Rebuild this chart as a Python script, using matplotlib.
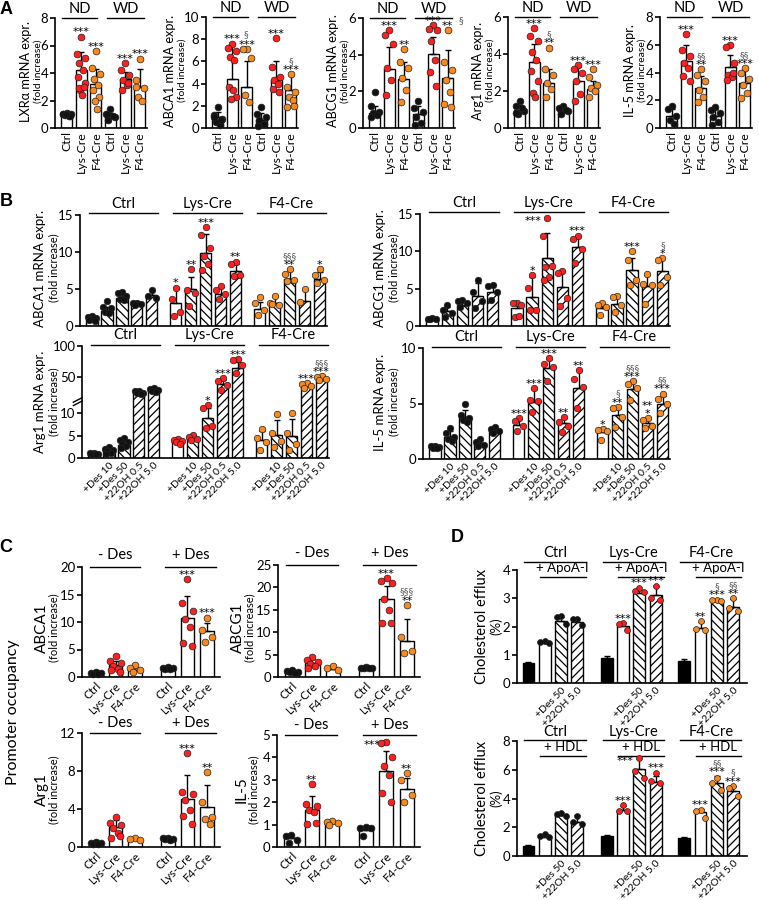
import numpy as np
import matplotlib
matplotlib.use('Agg')
import matplotlib.pyplot as plt

W, H = 759, 900
plt.rcParams['font.family'] = ['Lato', 'DejaVu Sans']
plt.rcParams['hatch.linewidth'] = 0.9
plt.rcParams['axes.linewidth'] = 1.2

RED = '#ff1f1f'
ORANGE = '#f7891f'
BLACK = '#111111'
GREY = '#555555'
STARFONT = ['DejaVu Sans']

# ---------------- DATA ----------------
A_ticklabels = ['Ctrl', 'Lys-Cre', 'F4-Cre', 'Ctrl', 'Lys-Cre', 'F4-Cre']
A_groups = ['ND', 'WD']

A1_mean = [1.0, 4.2, 3.2, 0.85, 3.55, 3.0]
A1_sd = [0.1, 1.3, 1.1, 0.25, 0.55, 1.3]
A1_pts = [[1.1, 1.05, 1.0, 0.95, 0.9, 1.0, 0.85, 1.0],
          [6.65, 5.4, 5.1, 4.7, 4.2, 3.7, 3.25, 2.75, 2.4, 2.9, 3.0],
          [5.6, 4.35, 3.95, 3.55, 3.1, 2.75, 2.25, 2.0, 1.4],
          [1.4, 1.05, 0.8, 0.55, 0.9, 1.0],
          [4.7, 4.2, 3.85, 3.5, 3.1, 2.75, 3.3],
          [5.05, 3.5, 2.9, 2.25, 2.0, 3.0]]
A1_sig = ['', '***', '***', '', '***', '***']
A1_sect = ['', '', '', '', '', '']

A2_mean = [0.95, 4.45, 3.7, 0.75, 4.3, 3.4]
A2_sd = [0.5, 3.1, 2.3, 0.6, 1.7, 1.4]
A2_pts = [[1.9, 1.15, 0.85, 0.55, 0.25, 1.0, 0.7],
          [7.6, 7.2, 6.9, 6.4, 6.1, 3.65, 2.8, 2.65, 3.4],
          [7.1, 7.1, 6.3, 2.95, 2.35],
          [1.9, 1.3, 1.0, 0.7, 0.4, 0.15],
          [8.1, 5.5, 4.6, 4.3, 3.95, 3.5, 3.25],
          [4.85, 3.7, 3.25, 2.8, 2.5, 1.9, 2.0]]
A2_sig = ['', '***', '***', '', '***', '***']
A2_sect = ['', '>§', '', '', '', '§']

A3_mean = [0.8, 3.2, 2.7, 0.75, 4.05, 2.75]
A3_sd = [0.4, 1.2, 0.9, 0.45, 0.9, 1.5]
A3_pts = [[1.95, 1.2, 0.9, 0.8, 0.7, 0.6],
          [5.35, 5.05, 4.6, 3.3, 2.6, 1.8],
          [4.3, 3.6, 3.3, 2.75, 2.05, 1.4],
          [1.5, 1.1, 0.9, 0.6, 0.3, 0.15],
          [5.6, 5.4, 5.35, 4.75, 3.7, 3.05, 2.3],
          [5.35, 3.6, 3.15, 2.6, 1.95, 1.3, 1.15]]
A3_sig = ['', '***', '**', '', '***', '**']
A3_sect = ['', '', '', '', '', '>§']

A4_mean = [0.95, 3.55, 2.45, 0.9, 2.55, 2.1]
A4_sd = [0.3, 1.0, 0.75, 0.2, 0.75, 0.45]
A4_pts = [[1.45, 1.2, 0.9, 0.75, 1.1, 0.8],
          [5.4, 4.95, 4.7, 4.1, 3.65, 3.1, 2.55, 1.9, 1.65],
          [4.35, 3.2, 2.85, 2.45, 2.1, 1.65],
          [1.2, 1.1, 0.9, 0.75, 1.0],
          [3.4, 3.2, 3.0, 2.55, 1.85, 1.45],
          [3.2, 2.75, 2.3, 2.15, 2.0, 1.65]]
A4_sig = ['', '***', '**', '', '***', '***']
A4_sect = ['', '', '§', '', '', '']

A5_mean = [0.9, 4.8, 2.85, 0.9, 4.4, 3.25]
A5_sd = [0.5, 1.15, 0.9, 0.45, 0.85, 0.9]
A5_pts = [[1.55, 1.4, 0.9, 0.55, 0.3],
          [6.75, 5.6, 5.2, 4.65, 4.3, 3.75, 3.4],
          [4.25, 3.8, 3.4, 2.75, 2.25, 1.9],
          [1.5, 1.3, 1.05, 0.8, 0.45, 0.2],
          [5.95, 5.85, 4.7, 3.8, 3.7, 3.45, 3.95],
          [4.3, 4.0, 3.55, 3.1, 2.5, 2.15]]
A5_sig = ['', '***', '**', '', '***', '***']
A5_sect = ['', '', '§§', '', '', '§§']

B_groups = ['Ctrl', 'Lys-Cre', 'F4-Cre']
B_ticklabels = ['+Des 10', '+Des 50', '+22OH 0.5', '+22OH 5.0']

B1_mean = [1.0, 2.0, 3.8, 3.0, 4.2, 3.1, 4.95, 9.9, 4.3, 7.4, 2.3, 3.15, 6.4, 3.4, 6.4]
B1_sd = [0.2, 0.6, 0.5, 0.15, 0.6, 1.9, 1.65, 2.6, 1.0, 1.0, 1.0, 0.85, 1.2, 1.6, 0.9]
B1_pts = [[1.3, 1.2, 1.1, 1.0, 0.9, 0.8, 0.7],
          [3.4, 2.6, 2.4, 1.9, 1.7],
          [4.6, 4.4, 4.0, 3.7, 3.5],
          [3.15, 3.05, 3.0, 2.8],
          [4.9, 4.05, 3.8],
          [5.2, 3.6, 1.9, 1.3],
          [7.7, 4.9, 4.4, 2.7],
          [13.4, 12.3, 10.5, 9.4, 8.4, 7.6],
          [5.4, 4.9, 4.3, 3.7],
          [8.7, 8.4, 6.9, 6.8],
          [3.9, 3.15, 2.2, 1.5],
          [4.05, 3.15, 2.8, 3.0],
          [7.7, 7.0, 6.2, 6.1],
          [5.0, 3.2],
          [7.7, 6.9, 6.2, 5.8]]
B1_sig = ['', '', '', '', '', '*', '**', '***', '', '**', '', '', '**', '', '*']
B1_sect = ['', '', '', '', '', '', '', '', '', '', '', '', '§§§', '', '']

B2_mean = [1.0, 2.0, 2.8, 4.0, 4.6, 2.4, 3.95, 9.1, 5.2, 10.6, 2.45, 2.9, 7.5, 5.3, 7.4]
B2_sd = [0.1, 0.6, 0.4, 1.7, 0.9, 0.7, 2.55, 3.35, 2.2, 1.5, 0.6, 1.0, 1.6, 1.55, 1.7]
B2_pts = [[1.1, 1.0, 0.95, 0.9],
          [2.8, 2.15, 1.7, 1.25],
          [3.5, 3.3, 3.05, 2.6],
          [6.1, 4.6, 3.3, 2.4],
          [5.5, 5.3, 4.6, 3.5],
          [3.1, 3.05, 2.8, 1.25, 1.3],
          [6.85, 5.05, 2.15, 2.15],
          [14.5, 12.1, 8.0, 7.9, 6.5, 6.1],
          [7.4, 7.1, 3.7, 2.7],
          [12.0, 11.7, 10.3, 8.5],
          [3.1, 2.8, 2.5, 1.5],
          [4.0, 3.85, 2.8, 1.9],
          [10.0, 8.9, 6.1, 5.5],
          [6.9, 5.6, 5.5, 2.95],
          [9.1, 8.8, 6.5, 5.5]]
B2_sig = ['', '', '', '', '', '', '*', '<***', '', '***', '', '', '***', '', '*']
B2_sect = ['', '', '', '', '', '', '', '', '', '', '', '', '', '', '§']

B3_mean = [1.0, 1.6, 3.0, 25, 28, 3.8, 4.4, 8.9, 38, 65, 4.0, 5.1, 5.0, 36, 46]
B3_sd = [0.15, 0.4, 0.8, 2, 2, 0.3, 0.5, 2.2, 7, 10, 2.0, 3.5, 3.8, 3, 3]
B3_pts = [[1.2, 1.1, 1.0, 0.9, 0.8],
          [2.5, 2.1, 1.8, 1.5, 1.2, 1.0],
          [4.4, 4.0, 3.6, 3.2, 2.8, 2.2],
          [28, 27, 25, 24, 23],
          [32, 30, 29, 27, 26],
          [4.3, 4.1, 3.9, 3.6, 3.2],
          [5.1, 4.7, 4.3, 4.0],
          [11.8, 11.1, 7.2, 6.8],
          [48, 43, 37, 29],
          [79, 78, 69, 56],
          [6.6, 4.4, 3.5, 1.9],
          [9.8, 5.5, 3.8, 2.4],
          [10.1, 5.7, 3.1, 1.9],
          [40, 38, 36, 33],
          [51, 50, 47, 45]]
B3_sig = ['', '', '', '', '', '', '', '*', '***', '***', '', '', '', '***', '***']
B3_sect = ['', '', '', '', '', '', '', '', '', '', '', '', '', '', '§§§']

B4_mean = [1.1, 2.0, 3.8, 1.4, 2.5, 3.1, 5.1, 8.2, 3.2, 6.4, 2.4, 4.0, 6.3, 3.2, 5.0]
B4_sd = [0.1, 0.5, 0.6, 0.3, 0.3, 0.5, 1.2, 0.8, 0.5, 1.6, 0.3, 0.6, 0.7, 0.4, 0.7]
B4_pts = [[1.2, 1.15, 1.1, 1.0, 1.0],
          [2.8, 2.3, 2.0, 1.8, 1.6],
          [5.0, 4.0, 3.7, 3.5, 3.3],
          [1.8, 1.5, 1.3, 1.2],
          [2.9, 2.7, 2.5, 2.3],
          [3.7, 3.4, 3.0, 2.5],
          [6.4, 5.3, 5.2, 4.2],
          [9.1, 8.6, 8.3, 7.0],
          [3.8, 3.3, 3.0, 2.4],
          [8.0, 7.2, 6.5, 4.6],
          [2.7, 2.6, 2.5, 1.7],
          [4.7, 4.6, 3.8, 2.9],
          [7.0, 6.8, 6.4, 5.3],
          [3.7, 3.5, 3.0, 2.8],
          [5.9, 5.4, 5.0, 4.1]]
B4_sig = ['', '', '', '', '', '***', '***', '***', '**', '**', '*', '**', '***', '**\n*', '***']
B4_sect = ['', '', '', '', '', '', '', '', '', '', '', '§', '§§§', '', '§§']

C_groups = ['- Des', '+ Des']
C_ticklabels = ['Ctrl', 'Lys-Cre', 'F4-Cre', 'Ctrl', 'Lys-Cre', 'F4-Cre']

C1_mean = [0.7, 2.1, 1.35, 1.55, 10.8, 8.3]
C1_sd = [0.15, 0.8, 0.5, 0.15, 4.0, 1.5]
C1_pts = [[0.9, 0.8, 0.7, 0.6, 0.5],
          [3.75, 3.0, 2.55, 1.95, 1.5, 1.2, 0.9],
          [2.1, 1.7, 1.35, 0.9],
          [1.8, 1.7, 1.6, 1.5, 1.4],
          [17.8, 13.4, 12.0, 10.6, 9.1, 6.1, 5.7],
          [10.8, 8.5, 7.3, 6.4]]
C1_sig = ['', '', '', '', '***', '***']
C1_sect = ['', '', '', '', '', '']

C2_mean = [1.3, 3.2, 1.85, 2.0, 17.4, 8.1]
C2_sd = [0.2, 0.8, 0.4, 0.1, 3.0, 4.8]
C2_pts = [[1.6, 1.4, 1.2, 1.1, 1.0],
          [4.5, 3.7, 3.4, 3.0, 2.4, 2.1],
          [2.4, 1.9, 1.5],
          [2.2, 2.1, 2.0, 1.9, 1.9],
          [22.0, 21.5, 21.0, 17.5, 15.0, 12.1, 12.0],
          [16.1, 8.9, 5.9, 5.4]]
C2_sig = ['', '', '', '', '***', '**']
C2_sect = ['', '', '', '', '', '§§§']

C3_mean = [0.4, 2.1, 0.8, 0.8, 5.1, 4.2]
C3_sd = [0.1, 0.7, 0.1, 0.1, 2.5, 2.3]
C3_pts = [[0.5, 0.45, 0.4, 0.35, 0.3],
          [3.15, 2.55, 2.3, 1.95, 1.45, 0.95, 1.2],
          [0.9, 0.85, 0.75],
          [0.95, 0.9, 0.85, 0.8, 0.75],
          [9.9, 5.8, 5.6, 4.9, 3.85, 3.25, 2.45],
          [7.9, 4.75, 3.15, 3.0, 2.45]]
C3_sig = ['', '', '', '', '***', '**']
C3_sect = ['', '', '', '', '', '']

C4_mean = [0.4, 1.67, 1.05, 0.78, 3.4, 2.6]
C4_sd = [0.12, 0.6, 0.06, 0.15, 0.9, 0.5]
C4_pts = [[0.55, 0.48, 0.33, 0.18],
          [2.8, 1.9, 1.82, 1.67, 1.55, 1.04, 1.07],
          [1.15, 1.1, 1.05, 1.0],
          [0.88, 0.86, 0.84, 0.5],
          [4.7, 4.65, 4.0, 3.6, 3.2, 2.4, 2.0],
          [3.3, 3.0, 2.3, 2.0]]
C4_sig = ['', '**', '', '', '<***', '**']
C4_sect = ['', '', '', '', '', '']

D_groups = ['Ctrl', 'Lys-Cre', 'F4-Cre']
D_ticklabels = ['+Des 50', '+22OH 5.0']

D1_mean = [0.7, 1.43, 2.18, 2.15, 0.87, 2.03, 3.2, 3.13, 0.79, 1.95, 2.91, 2.69]
D1_sd = [0.03, 0.05, 0.15, 0.1, 0.1, 0.1, 0.1, 0.3, 0.05, 0.2, 0.03, 0.3]
D1_pts = [[], [1.48, 1.45, 1.42], [2.38, 2.32, 2.1], [2.27, 2.25, 2.05],
          [], [2.12, 2.1, 1.88], [3.38, 3.26, 3.22], [3.45, 3.0, 2.95],
          [], [2.2, 1.92, 1.88], [2.95, 2.93, 2.9], [3.0, 2.65, 2.55]]
D1_sig = ['', '', '', '', '', '***', '***', '***', '', '**', '***', '**']
D1_sect = ['', '', '', '', '', '', '', '', '', '', '§', '§§']

D2_mean = [0.69, 1.34, 2.85, 2.38, 1.39, 3.2, 6.02, 5.16, 1.27, 3.08, 5.09, 4.54]
D2_sd = [0.05, 0.1, 0.1, 0.5, 0.1, 0.3, 0.8, 0.4, 0.05, 0.2, 0.45, 0.35]
D2_pts = [[], [1.5, 1.42, 1.35], [3.0, 2.95, 2.8], [2.8, 2.35, 2.25],
          [], [3.55, 3.15, 3.1], [6.85, 5.9, 5.45], [5.8, 5.2, 5.1],
          [], [3.2, 3.1, 2.65], [5.45, 5.1, 4.6], [4.85, 4.7, 4.2]]
D2_sig = ['', '', '', '', '', '***', '<***', '***', '', '***', '***', '***']
D2_sect = ['', '', '', '', '', '', '', '', '', '', '§§', '§']

# ---------------- HELPERS ----------------
fig = plt.figure(figsize=(W / 100, H / 100), dpi=100)


def axes_px(x0, y0, x1, y1):
    ax = fig.add_axes([x0 / W, 1 - y1 / H, (x1 - x0) / W, (y1 - y0) / H])
    ax.set_facecolor('none')
    for s in ['top', 'right']:
        ax.spines[s].set_visible(False)
    ax.tick_params(axis='x', length=0, pad=2)
    ax.tick_params(axis='y', length=3.5, width=1.2, pad=1.2)
    return ax


def ftext(x, y, s, **kw):
    fig.text(x / W, 1 - y / H, s, **kw)


JIT = [0, -1, 1, -0.5, 0.5, -0.8, 0.8, -0.25, 0.25, -0.65, 0.65]
STAR_DY = -0.6


def draw(ax, pos, mean, sd, pts, pcolors, faces, hatches, width, ms, sig, sect,
         fs=8, cap=2.3):
    for i, x in enumerate(pos):
        ax.bar(x, mean[i], width, color=faces[i], edgecolor='black',
               hatch=hatches[i], linewidth=1.0, zorder=2)
        ax.errorbar(x, mean[i], yerr=[[0], [sd[i]]], fmt='none', ecolor='black',
                    elinewidth=1.0, capsize=cap, capthick=1.0, zorder=3)
        p = pts[i]
        if len(p):
            offs = np.array(JIT[:len(p)]) * width * 0.38
            ax.scatter(x + offs, p, s=ms, c=pcolors[i], edgecolors='#222222',
                       linewidths=0.5, zorder=4, clip_on=False)
        top = max([mean[i] + sd[i]] + list(p))
        annot(ax, x, top, sig[i], sect[i], fs)


def annot(ax, x, top, sig, sect, fs):
    if not sig and not sect:
        return
    if sig.startswith('<'):
        ax.annotate(sig[1:], (x, top), xytext=(-4, -fs * 0.3), textcoords='offset points',
                    ha='right', va='center', fontsize=fs, family=STARFONT,
                    annotation_clip=False)
        return
    nl = sig.count('\n') + 1
    ax.annotate(sig, (x, top), xytext=(0, STAR_DY), textcoords='offset points',
                ha='center', va='bottom', fontsize=fs, family=STARFONT,
                linespacing=0.75, annotation_clip=False)
    if sect:
        if sect.startswith('>'):
            ax.annotate(sect[1:], (x, top), xytext=(fs * 1.0, fs * 0.45), textcoords='offset points',
                        ha='left', va='bottom', fontsize=fs * 0.85, color=GREY, annotation_clip=False)
        else:
            ax.annotate(sect, (x, top), xytext=(0, STAR_DY + fs * 0.7 * nl + 1),
                        textcoords='offset points', ha='center', va='bottom',
                        fontsize=fs * 0.85, color=GREY, annotation_clip=False)


def header(ax, spans, labels, yline, ytext, fs):
    tr = ax.get_xaxis_transform()
    for (a, b), lab in zip(spans, labels):
        ax.plot([a, b], [yline, yline], transform=tr, color='black', lw=1.0, clip_on=False)
        ax.text((a + b) / 2, ytext, lab, transform=tr, ha='center', va='center', fontsize=fs)


# ---------------- PANEL A ----------------
A_pos = [0, 1, 2, 3, 4, 5]
A_colors = [BLACK, RED, ORANGE, BLACK, RED, ORANGE]
A_boxes = [(55, 18, 147, 128), (206, 17, 298, 128), (363, 18, 455, 128),
           (508, 17, 600, 128), (660, 17, 752, 128)]
A_ylims = [8, 10, 6, 6, 8]
A_ysteps = [2, 2, 2, 2, 2]
A_ylabels = ['LXRα mRNA expr.', 'ABCA1 mRNA expr.', 'ABCG1 mRNA expr.',
             'Arg1 mRNA expr.', 'IL-5 mRNA expr.']
A_data = [(A1_mean, A1_sd, A1_pts, A1_sig, A1_sect),
          (A2_mean, A2_sd, A2_pts, A2_sig, A2_sect),
          (A3_mean, A3_sd, A3_pts, A3_sig, A3_sect),
          (A4_mean, A4_sd, A4_pts, A4_sig, A4_sect),
          (A5_mean, A5_sd, A5_pts, A5_sig, A5_sect)]
A_lab_off = [(29, 17), (36, 24), (30, 18), (30, 18), (30, 18)]
for k in range(5):
    x0, y0, x1, y1 = A_boxes[k]
    ax = axes_px(x0, y0, x1, y1)
    m, s, p, sg, sc = A_data[k]
    draw(ax, A_pos, m, s, p, A_colors, ['white'] * 6, [None] * 6, 0.75, 24, sg, sc, fs=8)
    ax.set_xlim(-0.8, 5.5)
    ax.set_ylim(0, A_ylims[k])
    ax.set_yticks(np.arange(0, A_ylims[k] + 0.01, A_ysteps[k]))
    ax.tick_params(axis='y', labelsize=9.5)
    ax.set_xticks(A_pos)
    ax.set_xticklabels(A_ticklabels, rotation=90, fontsize=8.8)
    header(ax, [(-0.35, 2.1), (2.75, 5.3)], A_groups, 1.0, 1.08, 10.5)
    yc = (y0 + y1) / 2 - 2
    ftext(x0 - A_lab_off[k][0], yc, A_ylabels[k], rotation=90, ha='center', va='center', fontsize=9.2)
    ftext(x0 - A_lab_off[k][1], yc, '(fold increase)', rotation=90, ha='center', va='center', fontsize=7.5)

# ---------------- PANEL B ----------------
B_pos = [0, 1, 2, 3, 4, 5.6, 6.6, 7.6, 8.6, 9.6, 11.2, 12.2, 13.2, 14.2, 15.2]
B_colors = [BLACK] * 5 + [RED] * 5 + [ORANGE] * 5
B_hatch = [None, '\\\\\\\\', '\\\\\\\\', '////', '////'] * 3
B_faces = ['white'] * 15
B_spans = [(-0.2, 4.4), (5.4, 10.0), (11.0, 15.6)]
B_tickpos = [B_pos[i] for i in range(15) if i % 5 != 0]


def bfinish(ax, ticklabels):
    ax.set_xlim(-0.8, 15.7)
    ax.tick_params(axis='y', labelsize=9.5)
    if ticklabels:
        ax.set_xticks(B_tickpos)
        ax.set_xticklabels(B_ticklabels * 3, rotation=45, ha='right',
                           rotation_mode='anchor', fontsize=7.5)
    else:
        ax.set_xticks([])


# B1
ax = axes_px(80, 215, 327, 326)
draw(ax, B_pos, B1_mean, B1_sd, B1_pts, B_colors, B_faces, B_hatch, 0.75, 22, B1_sig, B1_sect, fs=8)
ax.set_ylim(0, 15); ax.set_yticks([0, 5, 10, 15])
bfinish(ax, False)
header(ax, B_spans, B_groups, 1.02, 1.10, 10.5)
ftext(40, 268, 'ABCA1 mRNA expr.', rotation=90, ha='center', va='center', fontsize=9.5)
ftext(54, 268, '(fold increase)', rotation=90, ha='center', va='center', fontsize=8)

# B2
ax = axes_px(420, 214, 670, 326)
draw(ax, B_pos, B2_mean, B2_sd, B2_pts, B_colors, B_faces, B_hatch, 0.75, 22, B2_sig, B2_sect, fs=8)
ax.set_ylim(0, 15); ax.set_yticks([0, 5, 10, 15])
bfinish(ax, False)
header(ax, B_spans, B_groups, 1.02, 1.10, 10.5)
ftext(380, 268, 'ABCG1 mRNA expr.', rotation=90, ha='center', va='center', fontsize=9.5)
ftext(394, 268, '(fold increase)', rotation=90, ha='center', va='center', fontsize=8)

# B3 (broken axis)
BRK = 13.0
KUP = 0.139


def fwd(y):
    y = np.asarray(y, dtype=float)
    return np.where(y <= BRK, y, BRK + (y - BRK) * KUP)


def inv(y):
    y = np.asarray(y, dtype=float)
    return np.where(y <= BRK, y, BRK + (y - BRK) / KUP)


ax = axes_px(82, 346, 329, 458)
ax.set_yscale('function', functions=(fwd, inv))
draw(ax, B_pos, B3_mean, B3_sd, B3_pts, B_colors, B_faces, B_hatch, 0.75, 22, B3_sig, B3_sect, fs=8)
ax.set_ylim(0, 100)
ax.set_yticks([0, 5, 10, 50, 100])
ax.set_yticklabels(['0', '5', '10', '50', '100'])
ax.yaxis.set_minor_locator(matplotlib.ticker.NullLocator())
bfinish(ax, True)
header(ax, B_spans, B_groups, 1.01, 1.10, 10.5)
yb = float(fwd(BRK)) / float(fwd(100))
ax.plot([-0.035, 0.0], [yb - 0.02, yb + 0.02], transform=ax.transAxes, color='black', lw=1.0, clip_on=False)
ax.plot([-0.035, 0.0], [yb - 0.05, yb - 0.01], transform=ax.transAxes, color='black', lw=1.0, clip_on=False)
ftext(40, 402, 'Arg1 mRNA expr.', rotation=90, ha='center', va='center', fontsize=9.5)
ftext(54, 402, '(fold increase)', rotation=90, ha='center', va='center', fontsize=8)

# B4
ax = axes_px(423, 348, 670, 459)
draw(ax, B_pos, B4_mean, B4_sd, B4_pts, B_colors, B_faces, B_hatch, 0.75, 22, B4_sig, B4_sect, fs=8)
ax.set_ylim(0, 10); ax.set_yticks([0, 5, 10])
bfinish(ax, True)
header(ax, B_spans, B_groups, 1.01, 1.10, 10.5)
ftext(380, 402, 'IL-5 mRNA expr.', rotation=90, ha='center', va='center', fontsize=9.5)
ftext(394, 402, '(fold increase)', rotation=90, ha='center', va='center', fontsize=8)

# ---------------- PANEL C ----------------
C_pos = [0, 1, 2, 3.65, 4.65, 5.65]
C_colors = [BLACK, RED, ORANGE, BLACK, RED, ORANGE]
C_spans = [(-0.3, 2.25), (3.5, 6.1)]


def cpanel(box, mean, sd, pts, sig, sect, ylim, yticks, lab, labx, laby, hl, ht):
    ax = axes_px(*box)
    draw(ax, C_pos, mean, sd, pts, C_colors, ['white'] * 6, [None] * 6, 0.7, 24, sig, sect, fs=8)
    ax.set_xlim(-0.7, 6.3)
    ax.set_ylim(0, ylim)
    ax.set_yticks(yticks)
    ax.tick_params(axis='y', labelsize=9.5)
    ax.set_xticks(C_pos)
    ax.set_xticklabels(C_ticklabels, rotation=45, ha='right', rotation_mode='anchor', fontsize=8.5)
    header(ax, C_spans, C_groups, hl, ht, 10.5)
    ftext(labx, laby, lab, rotation=90, ha='center', va='center', fontsize=11)
    ftext(labx + 12, laby, '(fold increase)', rotation=90, ha='center', va='center', fontsize=8)
    return ax


cpanel((82, 567, 220, 677), C1_mean, C1_sd, C1_pts, C1_sig, C1_sect, 20, [0, 5, 10, 15, 20],
       'ABCA1', 42, 628, 1.0, 1.11)
cpanel((278, 565, 420, 677), C2_mean, C2_sd, C2_pts, C2_sig, C2_sect, 25, [0, 5, 10, 15, 20, 25],
       'ABCG1', 238, 628, 1.0, 1.11)
cpanel((82, 733, 220, 847), C3_mean, C3_sd, C3_pts, C3_sig, C3_sect, 12, [0, 4, 8, 12],
       'Arg1', 42, 790, 1.0, 1.09)
cpanel((277, 735, 420, 847), C4_mean, C4_sd, C4_pts, C4_sig, C4_sect, 5, [0, 1, 2, 3, 4, 5],
       'IL-5', 242, 790, 1.0, 1.09)
ftext(13, 712, 'Promoter occupancy', rotation=90, ha='center', va='center', fontsize=11.5)

# ---------------- PANEL D ----------------
D_pos = [0, 1, 2, 3, 4.8, 5.8, 6.8, 7.8, 9.55, 10.55, 11.55, 12.55]
D_colors = [BLACK] * 4 + [RED] * 4 + [ORANGE] * 4
D_faces = ['black', 'white', 'white', 'white'] * 3
D_hatch = [None, None, '\\\\\\\\', '////'] * 3
D_spans1 = [(-0.25, 3.5), (4.55, 8.3), (9.3, 13.05)]
D_spans2 = [(0.7, 3.5), (5.5, 8.3), (10.25, 13.05)]
D_tickpos = [D_pos[i] for i in range(12) if i % 4 >= 2]


def dpanel(box, mean, sd, pts, sig, sect, ylim, yticks, treat, l1, t1, l2, t2, laby):
    ax = axes_px(*box)
    draw(ax, D_pos, mean, sd, pts, D_colors, D_faces, D_hatch, 0.72, 18, sig, sect, fs=8)
    ax.set_xlim(-0.7, 13.4)
    ax.set_ylim(0, ylim)
    ax.set_yticks(yticks)
    ax.tick_params(axis='y', labelsize=9.5)
    ax.set_xticks(D_tickpos)
    ax.set_xticklabels(D_ticklabels * 3, rotation=45, ha='right', rotation_mode='anchor', fontsize=7.5)
    header(ax, D_spans1, D_groups, l1, t1, 10.5)
    header(ax, D_spans2, [treat] * 3, l2, t2, 9.5)
    ftext(482, laby, 'Cholesterol efflux', rotation=90, ha='center', va='center', fontsize=10.5)
    ftext(496, laby, '(%)', rotation=90, ha='center', va='center', fontsize=9.5)
    return ax


dpanel((517, 570, 747, 683), D1_mean, D1_sd, D1_pts, D1_sig, D1_sect, 4, [0, 1, 2, 3, 4],
       '+ ApoA-I', 1.071, 1.15, 0.938, 1.018, 626)
dpanel((517, 741, 747, 856), D2_mean, D2_sd, D2_pts, D2_sig, D2_sect, 8, [0, 2, 4, 6, 8],
       '+ HDL', 1.01, 1.08, 0.87, 0.95, 798)

# ---------------- PANEL LETTERS ----------------
for lab, x, y in [('A', 6, 10), ('B', 6, 202), ('C', 6, 548), ('D', 457, 537)]:
    ftext(x, y, lab, ha='center', va='center', fontsize=13, fontweight='bold',
          family=['Liberation Sans', 'DejaVu Sans'])

fig.savefig('out.png', dpi=100)
